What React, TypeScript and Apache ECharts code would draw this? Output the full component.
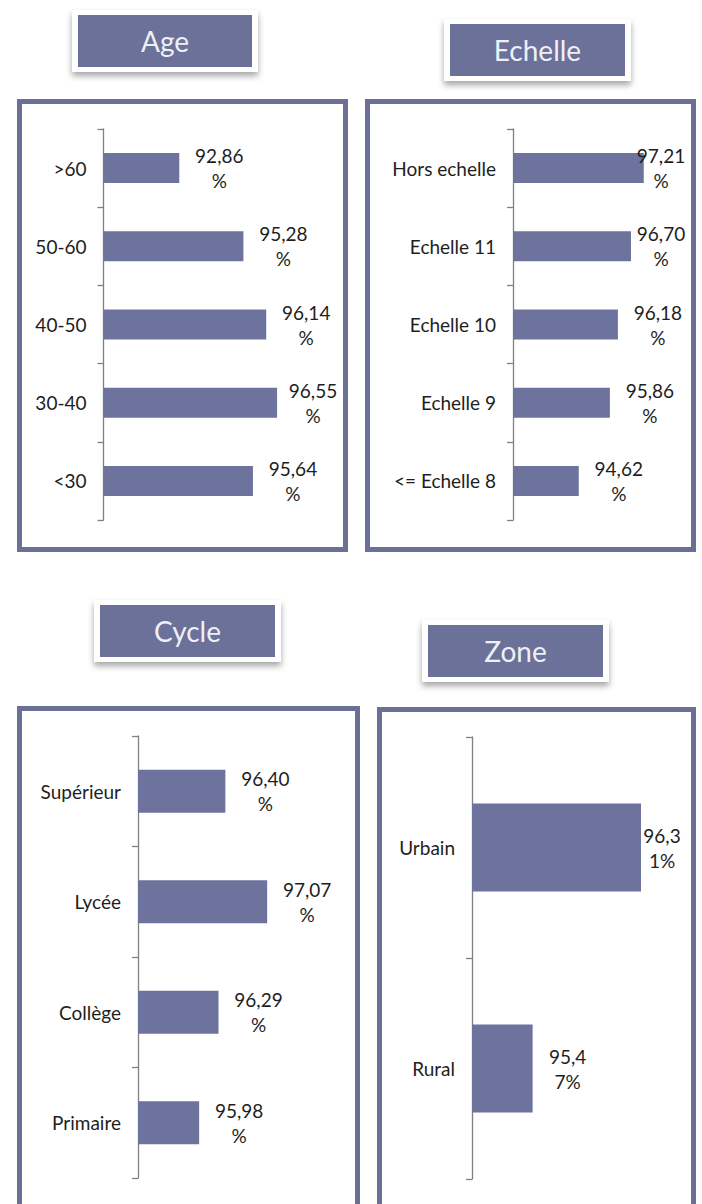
import React, { useEffect, useRef } from 'react';
import * as echarts from 'echarts';

// ---- data ----
const ageCategories = ['>60', '50-60', '40-50', '30-40', '<30'];
const ageValues = [92.86, 95.28, 96.14, 96.55, 95.64];

const echelleCategories = ['Hors echelle', 'Echelle 11', 'Echelle 10', 'Echelle 9', '<= Echelle 8'];
const echelleValues = [97.21, 96.7, 96.18, 95.86, 94.62];

const cycleCategories = ['Supérieur', 'Lycée', 'Collège', 'Primaire'];
const cycleValues = [96.4, 97.07, 96.29, 95.98];

const zoneCategories = ['Urbain', 'Rural'];
const zoneValues = [96.31, 95.47];

const panelTitles = ['Age', 'Echelle', 'Cycle', 'Zone'];

// ---- layout / style ----
const FONT = 'Lato, "Open Sans", sans-serif';
const BAR = '#6d739c';
const FRAME = '#6a7096';
const TITLE_BG = '#6b7199';

const panels = [
  {
    cats: ageCategories, vals: ageValues,
    titleBox: [78, 15, 174, 52], frame: [19.5, 101.5, 326, 448],
    left: 103.5, top: 129, height: 391, min: 90, max: 98, scale: 26.5,
    barWidth: 30, dist: 40, labelW: 54, clamp: 340,
  },
  {
    cats: echelleCategories, vals: echelleValues,
    titleBox: [450, 24, 175, 52], frame: [367.5, 101.5, 326, 448],
    left: 513, top: 129, height: 391, min: 92, max: 98, scale: 25.1,
    barWidth: 30, dist: 40, labelW: 54, clamp: 688,
  },
  {
    cats: cycleCategories, vals: cycleValues,
    titleBox: [100, 605, 175, 52], frame: [19.5, 708.5, 338, 520],
    left: 138, top: 736, height: 442, min: 95, max: 98, scale: 62.4,
    barWidth: 43, dist: 40, labelW: 54, clamp: 350,
  },
  {
    cats: zoneCategories, vals: zoneValues,
    titleBox: [428, 625, 175, 52], frame: [379.5, 709.5, 314, 520],
    left: 472, top: 737, height: 442, min: 95, max: 96.5, scale: 129,
    barWidth: 88, dist: 35, labelW: 42, clamp: 683,
  },
];

const fmt = (v: number) => v.toFixed(2).replace('.', ',') + '%';

export default function App() {
  const ref = useRef<HTMLDivElement>(null);

  useEffect(() => {
    if (!ref.current) return;
    const chart = echarts.init(ref.current, undefined, { renderer: 'svg' });

    const grids: any[] = [];
    const xAxes: any[] = [];
    const yAxes: any[] = [];
    const series: any[] = [];
    const graphics: any[] = [];

    panels.forEach((p, i) => {
      grids.push({
        left: p.left, top: p.top, height: p.height,
        width: (p.max - p.min) * p.scale,
        containLabel: false, outerBoundsMode: 'none',
      });
      xAxes.push({
        gridIndex: i, type: 'value', min: p.min, max: p.max, show: false,
        splitLine: { show: false },
      });
      yAxes.push({
        gridIndex: i, type: 'category', data: p.cats, inverse: true,
        boundaryGap: true,
        axisLine: { show: true, lineStyle: { color: '#808080', width: 1.3 } },
        axisTick: { show: true, length: 6, lineStyle: { color: '#808080', width: 1.3 } },
        axisLabel: { margin: 17, fontSize: 19, color: '#1e1e1e', fontFamily: FONT },
        splitLine: { show: false },
      });
      const clamp = p.clamp;
      series.push({
        type: 'bar', xAxisIndex: i, yAxisIndex: i, data: p.vals,
        barWidth: p.barWidth,
        itemStyle: { color: BAR },
        label: {
          show: true, position: 'right', distance: p.dist,
          align: 'center', verticalAlign: 'middle',
          formatter: (d: any) => fmt(d.value),
          width: p.labelW, overflow: 'breakAll',
          fontSize: 19, lineHeight: 25, color: '#1e1e1e', fontFamily: FONT,
        },
        labelLayout: (params: any) => {
          const r = params.labelRect;
          if (r.x + r.width > clamp) {
            return { x: clamp - r.width / 2 };
          }
          return {};
        },
      });

      const [fx, fy, fw, fh] = p.frame;
      graphics.push({
        type: 'rect', z: -1,
        shape: { x: fx, y: fy, width: fw, height: fh },
        style: { fill: 'rgba(0,0,0,0)', stroke: FRAME, lineWidth: 5 },
      });

      const [tx, ty, tw, th] = p.titleBox;
      graphics.push({
        type: 'rect', z: 1,
        shape: { x: tx - 6, y: ty - 5, width: tw + 12, height: th + 10 },
        style: {
          fill: '#ffffff', shadowBlur: 6, shadowOffsetY: 4,
          shadowColor: 'rgba(0,0,0,0.35)',
        },
      });
      graphics.push({
        type: 'rect', z: 2,
        shape: { x: tx, y: ty, width: tw, height: th },
        style: { fill: TITLE_BG },
      });
      graphics.push({
        type: 'text', z: 3,
        style: {
          text: panelTitles[i], x: tx + tw / 2, y: ty + th / 2,
          align: 'center', verticalAlign: 'middle',
          fill: '#eef0f6', fontSize: 28, fontFamily: FONT,
        },
      });
    });

    chart.setOption({
      animation: false,
      backgroundColor: '#ffffff',
      grid: grids,
      xAxis: xAxes,
      yAxis: yAxes,
      series,
      graphic: graphics,
    });

    return () => chart.dispose();
  }, []);

  return (
    <div
      ref={ref}
      style={{ position: 'absolute', left: 0, top: 0, width: 702, height: 1204, background: '#fff' }}
    />
  );
}
